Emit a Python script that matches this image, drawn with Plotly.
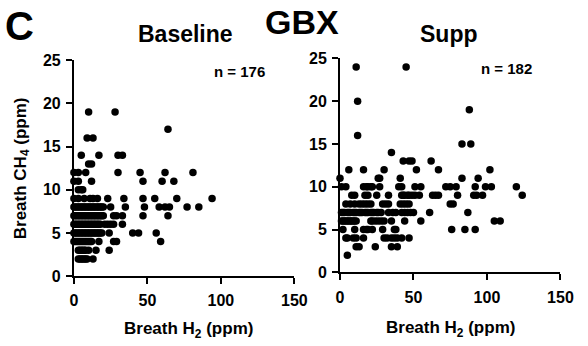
import plotly.graph_objects as go

# Baseline: rows of (CH4 value, list of H2 values)
base_rows = {
    19: [10, 28],
    17: [64],
    16: [9, 13],
    14: [5, 17, 30, 33],
    13: [10, 12],
    12: [0, 3, 8, 30, 45, 62, 81],
    11: [0, 3, 12, 47, 60, 68],
    10: [3, 5, 6],
    9: [0, 3, 7, 11, 13, 16, 23, 34, 47, 55, 70, 94],
    8: [0, 1, 2, 3, 4, 5, 6, 7, 8, 9, 10, 11, 12, 13, 14, 15, 16, 17, 18, 19, 20, 25, 35, 48, 58, 62, 65, 77, 85],
    7: [0, 1, 2, 3, 4, 5, 6, 7, 8, 9, 10, 11, 12, 13, 14, 15, 16, 17, 18, 19, 20, 27, 29, 33, 47, 64],
    6: [0, 1, 2, 3, 4, 5, 6, 7, 8, 9, 10, 11, 12, 13, 14, 15, 16, 17, 18, 21, 23, 25, 27, 33],
    5: [0, 1, 2, 3, 4, 5, 6, 7, 8, 9, 10, 11, 12, 13, 14, 15, 16, 17, 18, 19, 24, 40, 44, 56],
    4: [0, 1, 2, 3, 4, 5, 6, 7, 8, 9, 10, 11, 12, 17, 27, 29, 59],
    3: [3, 4, 5, 6, 7, 8, 10, 15, 24],
    2: [3, 4, 5, 6, 7, 8, 9, 13],
}

supp_rows = {
    24: [11, 45],
    20: [12],
    19: [88],
    16: [12],
    15: [83, 89],
    14: [35],
    13: [43, 47, 49, 62],
    12: [6, 16, 30, 52, 67, 102],
    11: [0, 26, 27, 41, 83, 94],
    10: [1, 4, 16, 18, 19, 21, 22, 27, 40, 42, 51, 55, 72, 75, 79, 92, 99, 103, 120],
    9: [8, 10, 17, 19, 25, 33, 42, 43, 44, 46, 47, 49, 51, 54, 63, 65, 67, 80, 91, 93, 97, 124],
    8: [4, 7, 10, 13, 15, 17, 19, 21, 29, 31, 33, 41, 43, 45, 47, 75, 77],
    7: [1, 2, 3, 5, 6, 7, 9, 10, 11, 13, 14, 15, 17, 18, 19, 21, 22, 23, 25, 26, 28, 33, 36, 38, 42, 44, 46, 48, 50, 61, 87],
    6: [1, 2, 3, 4, 5, 6, 7, 8, 9, 10, 11, 21, 22, 24, 26, 28, 30, 35, 44, 55, 105, 109],
    5: [2, 10, 16, 18, 19, 22, 29, 37, 38, 76, 85, 92],
    4: [4, 5, 9, 11, 16, 30, 32, 35, 37, 39, 42, 47],
    3: [11, 13, 24, 35, 39],
    2: [5],
}

def flatten(rows):
    xs, ys = [], []
    for yv, xl in rows.items():
        for xv in xl:
            xs.append(xv)
            ys.append(yv)
    return xs, ys

bx, by = flatten(base_rows)
sx, sy = flatten(supp_rows)

x_ticks = [0, 50, 100, 150]
y_ticks = [0, 5, 10, 15, 20, 25]

W, H = 588, 346
FONT = "Liberation Sans, Arial, sans-serif"

fig = go.Figure()
mk = dict(color="black", size=7.5, line=dict(width=0))
fig.add_trace(go.Scatter(x=bx, y=by, mode="markers", marker=mk, xaxis="x", yaxis="y", cliponaxis=False, showlegend=False))
fig.add_trace(go.Scatter(x=sx, y=sy, mode="markers", marker=mk, xaxis="x2", yaxis="y2", cliponaxis=False, showlegend=False))

def px_x(p):
    return p / W

def px_y(p):
    return 1 - p / H

axis_common = dict(showline=True, linecolor="black", linewidth=2, ticks="outside", ticklen=6,
                   tickwidth=2, tickcolor="black", showgrid=False, zeroline=False,
                   tickfont=dict(family=FONT, size=16, color="black"))

def bold(vals):
    return ["<b>%d</b>" % v for v in vals]

xax = dict(range=[0, 150], tickvals=x_ticks, ticktext=bold(x_ticks), ticklabelstandoff=3, **axis_common)
yax = dict(range=[0, 25], tickvals=y_ticks, ticktext=bold(y_ticks), ticklabelstandoff=2, **axis_common)

fig.update_layout(
    width=W, height=H, margin=dict(l=0, r=0, t=0, b=0),
    paper_bgcolor="white", plot_bgcolor="white",
    xaxis=dict(domain=[px_x(72), px_x(299)], anchor="y", **xax),
    yaxis=dict(domain=[px_y(282), px_y(55)], anchor="x", **yax),
    xaxis2=dict(domain=[px_x(346), px_x(573)], anchor="y2", **xax),
    yaxis2=dict(domain=[px_y(278), px_y(53)], anchor="x2", **yax),
)

def ann(text, x, y, size, xanchor="center", yanchor="middle", angle=0):
    fig.add_annotation(text="<b>%s</b>" % text, x=px_x(x), y=px_y(y), xref="paper", yref="paper",
                       showarrow=False, xanchor=xanchor, yanchor=yanchor, textangle=angle,
                       font=dict(family=FONT, size=size, color="black"))

ann("C", 16, 19, 40)
ann("GBX", 307, 15, 34)
ann("Baseline", 187, 27, 23)
ann("Supp", 458, 27, 23)
ann("n = 176", 242, 67, 15)
ann("n = 182", 517, 64, 15)
ann("Breath CH<sub>4</sub> (ppm)", 18, 168, 17, angle=-90)
ann("Breath H<sub>2</sub> (ppm)", 190, 339, 17)
ann("Breath H<sub>2</sub> (ppm)", 460, 338, 17)

fig.write_html("out.html")
